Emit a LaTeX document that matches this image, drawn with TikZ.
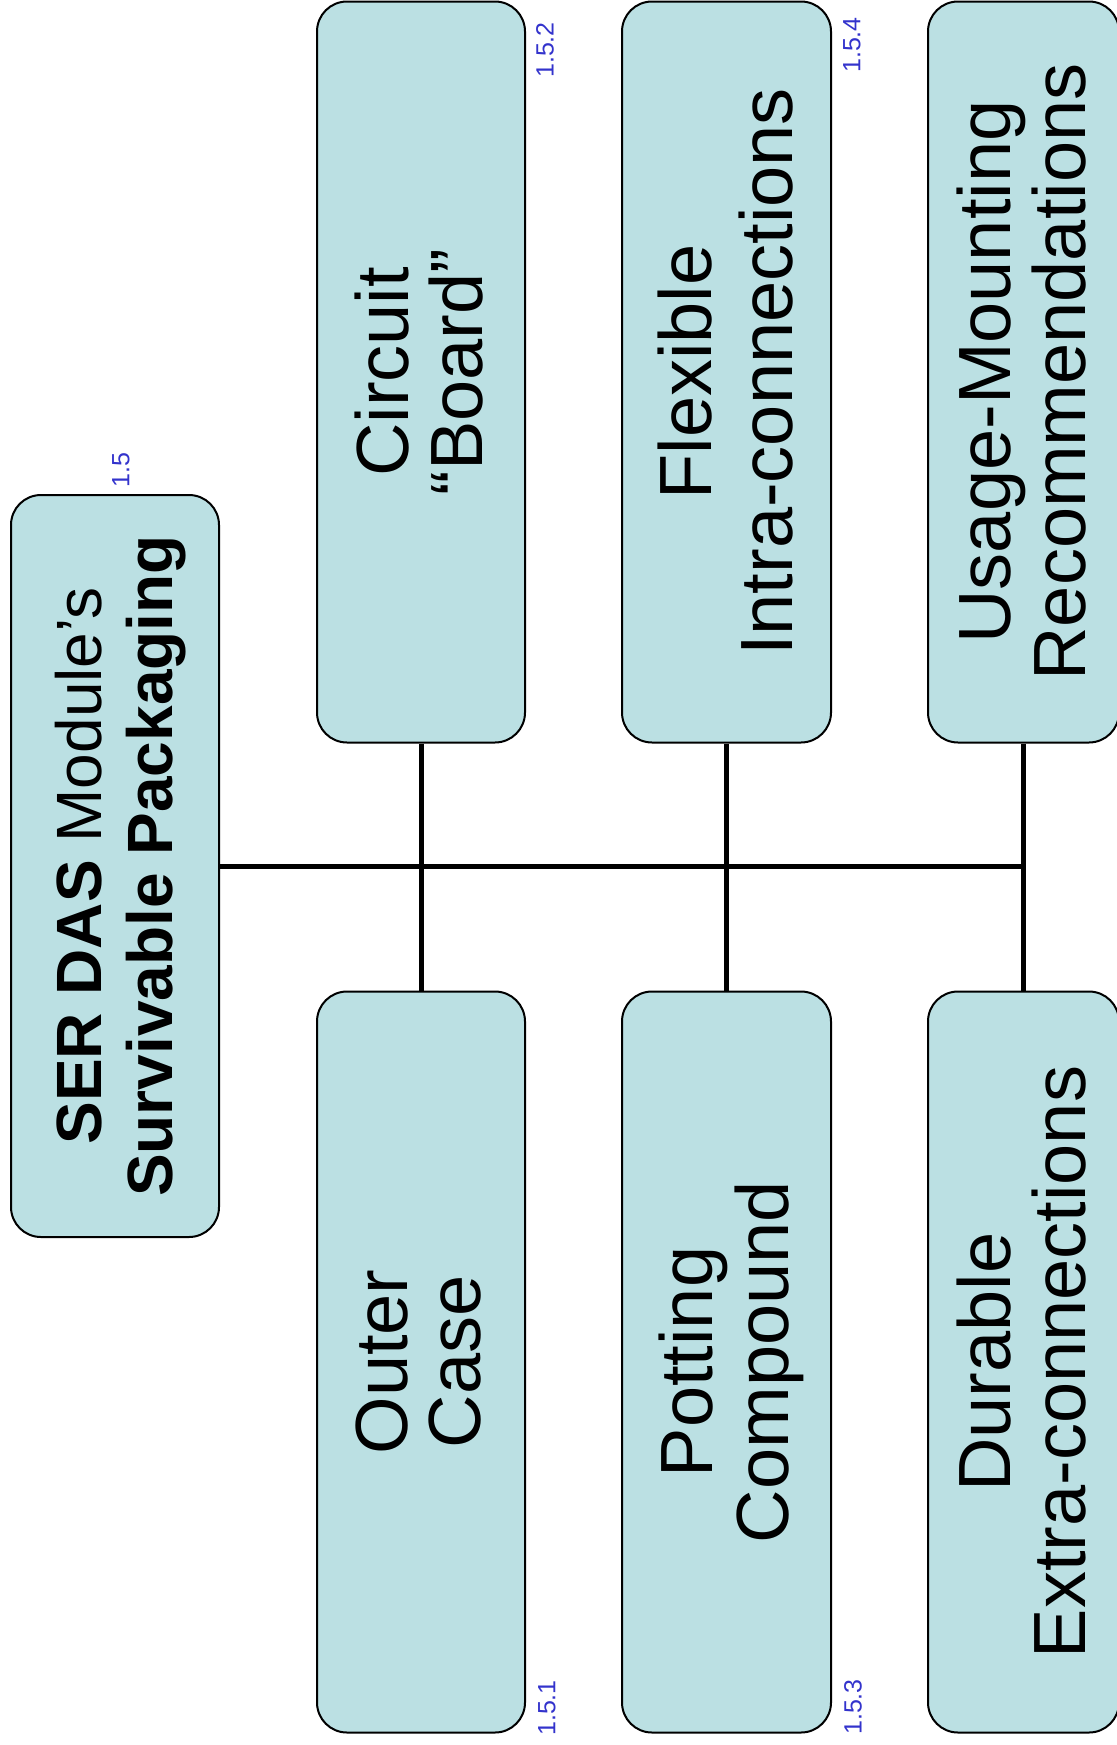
\documentclass[tikz,border=0pt]{standalone}
\usepackage{fontspec}
\setmainfont{Liberation Sans}
\definecolor{boxfill}{RGB}{187,224,227}
\definecolor{numblue}{RGB}{51,51,204}
\newcommand{\mytwolines}[3]{\hspace*{#1pt}\rotatebox{90}{\begin{tabular}{@{}c@{}}#2\\#3\end{tabular}}}
\begin{document}
\begin{tikzpicture}[x=0.5pt,y=-0.5pt,
  box/.style={draw=black, line width=1pt, fill=boxfill, rounded corners=15pt, inner sep=0pt},
  big/.style={font=\fontsize{37}{#1}\selectfont},
  rootfont/.style={font=\fontsize{32}{35}\selectfont},
  num/.style={text=numblue, font=\fontsize{12.5}{14}\selectfont, rotate=90, inner sep=0pt},
  link/.style={line width=2.5pt}]
\useasboundingbox (0,0) rectangle (1117,1745);

\node[box, rootfont, minimum width=104pt, minimum height=371pt] (root) at (115,866)
  {\mytwolines{8}{\textbf{SER DAS} Module’s}{\textbf{Survivable Packaging}}};

\node[box, big=35.5, minimum width=104pt, minimum height=370.5pt] (cb) at (421,372)
  {\mytwolines{8.3}{Circuit}{“Board”}};
\node[box, big=40.75, minimum width=104.5pt, minimum height=370.5pt] (fl) at (726.5,372)
  {\mytwolines{9.3}{Flexible}{Intra-connections}};
\node[box, big=35.5, minimum width=95.5pt, minimum height=370.5pt] (us) at (1023.5,372)
  {\mytwolines{8.3}{Usage-Mounting}{Recommendations}};

\node[box, big=35.75, minimum width=104pt, minimum height=370.5pt] (oc) at (421,1362)
  {\mytwolines{8.3}{Outer}{Case}};
\node[box, big=36.5, minimum width=104.5pt, minimum height=370.5pt] (pc) at (726.5,1362)
  {\mytwolines{8.3}{Potting}{Compound}};
\node[box, big=35.5, minimum width=95.5pt, minimum height=370.5pt] (de) at (1023.5,1362)
  {\mytwolines{8.3}{Durable}{Extra-connections}};

\draw[link] (root.east) -- (root.east -| us.south);
\draw[link] (cb.south) -- (oc.north);
\draw[link] (fl.south) -- (pc.north);
\draw[link] (us.south) -- (de.north);

\node[num] (n15) at (121,470) {1.5};
\node[num] (n152) at (545,50) {1.5.2};
\node[num] (n154) at (852,45) {1.5.4};
\node[num] (n151) at (547,1708) {1.5.1};
\node[num] (n153) at (853,1707) {1.5.3};
\end{tikzpicture}
\end{document}
